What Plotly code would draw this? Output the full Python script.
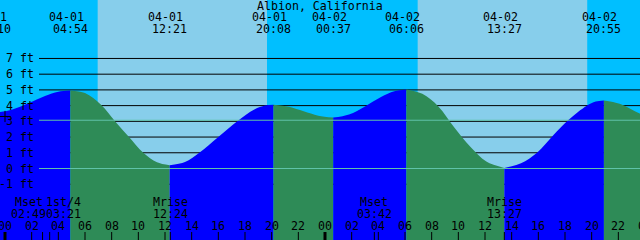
import plotly.graph_objects as go
from datetime import datetime

TITLE = "Albion, California"
BASE = datetime(2024, 4, 1)

# ---- data ----
tide_dates = ["03-31", "04-01", "04-01", "04-01", "04-02", "04-02", "04-02", "04-02", "04-03"]
tide_times = ["23:10", "04:54", "12:21", "20:08", "00:37", "06:06", "13:27", "20:55", "01:24"]
tide_ft = [3.55, 4.97, 0.21, 4.06, 3.24, 5.03, 0.04, 4.33, 3.05]

# intermediate tide readings (hours after 04-01 00:00, feet)
curve_hours = [0.5, 1.75, 3.0, 4.0,
               6.0, 7.2, 8.25, 9.3, 10.37, 11.4,
               13.5, 14.57, 16.0, 17.42, 18.7, 19.5,
               21.3, 22.4, 23.5,
               25.8, 27.0, 28.2, 29.2,
               31.3, 32.5, 33.7, 34.9, 36.1,
               38.7, 39.9, 41.12, 42.25, 43.63, 44.3,
               46.1, 47.6, 48.6]
curve_ft = [3.74, 4.15, 4.62, 4.89,
            4.80, 4.05, 3.0, 2.0, 1.0, 0.4,
            0.41, 1.0, 2.0, 3.0, 3.75, 4.0,
            3.93, 3.64, 3.36,
            3.44, 3.95, 4.55, 4.91,
            4.75, 3.95, 2.61, 1.38, 0.44,
            0.33, 1.0, 2.11, 3.08, 3.99, 4.26,
            4.12, 3.50, 3.15]

sunrise = ["04-01 06:57", "04-02 06:57"]
sunset = ["04-01 19:39", "04-02 19:40"]

moon_names = ["Mset", "1st/4", "Mrise", "Mset", "Mrise"]
moon_stamps = ["04-01 02:49", "04-01 03:21", "04-01 12:24", "04-02 03:42", "04-02 13:27"]

level_ticks = [-1, 0, 1, 2, 3, 4, 5, 6, 7]
mean_level_ft = 3.07
marker_hour = 0.0
marker_ft = 3.31
hour_ticks = list(range(0, 50, 2))

# ---- style ----
W, H = 640, 240
X0, X1 = -0.375, 47.625
Y0, Y1 = -4.548, 10.719
NIGHT, DAY = "#00BFFF", "#87CEEB"
RISE, FALL = "#0000FF", "#2E8B57"
LIGHT = "#5FC3A8"
FONT = dict(family="DejaVu Sans Mono, Liberation Mono, monospace", size=11.6, color="black")


def hours(stamp):
    d = datetime.strptime("2024-" + stamp, "%Y-%m-%d %H:%M")
    return (d - BASE).total_seconds() / 3600.0


def xp(t):
    return (t - X0) / (X1 - X0)


def yp(pix):
    return 1 - pix / H


ext_t = [hours(d + " " + t) for d, t in zip(tide_dates, tide_times)]
pts = sorted(zip(ext_t + curve_hours, tide_ft + curve_ft))

fig = go.Figure()
for i in range(len(ext_t) - 1):
    t0, t1 = ext_t[i], ext_t[i + 1]
    seg = [p for p in pts if t0 <= p[0] <= t1]
    col = RISE if tide_ft[i + 1] > tide_ft[i] else FALL
    fig.add_trace(go.Scatter(x=[t0, t1], y=[Y0 - 1, Y0 - 1], mode="lines",
                             line=dict(width=0), hoverinfo="skip", showlegend=False))
    fig.add_trace(go.Scatter(x=[p[0] for p in seg], y=[p[1] for p in seg], mode="lines",
                             line=dict(width=0, shape="spline", color=col),
                             fill="tonexty", fillcolor=col, hoverinfo="skip", showlegend=False))

fig.add_trace(go.Scatter(x=[marker_hour], y=[marker_ft], mode="markers",
                         marker=dict(symbol="cross-thin", size=8, line=dict(color="black", width=1)),
                         hoverinfo="skip", showlegend=False))

shapes = []
for sr, ss in zip(sunrise, sunset):
    shapes.append(dict(type="rect", xref="x", yref="paper", x0=hours(sr), x1=hours(ss), y0=0, y1=1,
                       fillcolor=DAY, line=dict(width=0), layer="below"))
for lv in level_ticks:
    shapes.append(dict(type="line", xref="paper", yref="y", x0=39 / W, x1=1, y0=lv, y1=lv,
                       line=dict(color="black", width=1), layer="below"))
for lv in [0, mean_level_ft]:
    shapes.append(dict(type="line", xref="paper", yref="y", x0=39 / W, x1=1, y0=lv, y1=lv,
                       line=dict(color=LIGHT, width=1), layer="above"))
for h in hour_ticks:
    shapes.append(dict(type="line", xref="x", yref="paper", x0=h, x1=h, y0=0, y1=8 / H,
                       line=dict(color="black", width=3 if h % 24 == 0 else 1), layer="above"))
moon_t = [hours(s) for s in moon_stamps]
for t in moon_t:
    shapes.append(dict(type="line", xref="x", yref="paper", x0=t, x1=t, y0=0, y1=8 / H,
                       line=dict(color="black", width=1), layer="above"))

ann = []
ann.append(dict(text=TITLE, xref="paper", yref="paper", x=0.5, y=yp(6), xanchor="center",
                yanchor="middle", showarrow=False, font=FONT))
for d, tm, t in zip(tide_dates, tide_times, ext_t):
    ann.append(dict(text=d, xref="paper", yref="paper", x=xp(t), y=yp(17.5), xshift=-4,
                    xanchor="center", yanchor="middle", showarrow=False, font=FONT))
    ann.append(dict(text=tm, xref="paper", yref="paper", x=xp(t), y=yp(28.5),
                    xanchor="center", yanchor="middle", showarrow=False, font=FONT))
for lv in level_ticks:
    ann.append(dict(text=f"{lv} ft", xref="paper", yref="y", x=36 / W, y=lv,
                    xanchor="right", yanchor="middle", showarrow=False, font=FONT))
for h in hour_ticks:
    ann.append(dict(text=f"{h % 24:02d}", xref="paper", yref="paper", x=xp(h), y=yp(225.5),
                    xanchor="center", yanchor="middle", showarrow=False, font=FONT))

# moon labels, pushed apart when they collide
mpx = [xp(t) * W for t in moon_t]
for i in range(len(mpx) - 1):
    if mpx[i + 1] - mpx[i] < 35:
        m = (mpx[i] + mpx[i + 1]) / 2
        mpx[i], mpx[i + 1] = m - 17.5, m + 17.5
for name, st, x in zip(moon_names, moon_stamps, mpx):
    ann.append(dict(text=name, xref="paper", yref="paper", x=x / W, y=yp(201.5),
                    xanchor="center", yanchor="middle", showarrow=False, font=FONT))
    ann.append(dict(text=st.split(" ")[1], xref="paper", yref="paper", x=x / W, y=yp(213.5),
                    xanchor="center", yanchor="middle", showarrow=False, font=FONT))

fig.update_layout(
    width=W, height=H, margin=dict(l=0, r=0, t=0, b=0),
    paper_bgcolor=NIGHT, plot_bgcolor=NIGHT,
    xaxis=dict(range=[X0, X1], visible=False, fixedrange=True),
    yaxis=dict(range=[Y0, Y1], visible=False, fixedrange=True),
    shapes=shapes, annotations=ann, showlegend=False,
)
fig.write_html("out.html")
